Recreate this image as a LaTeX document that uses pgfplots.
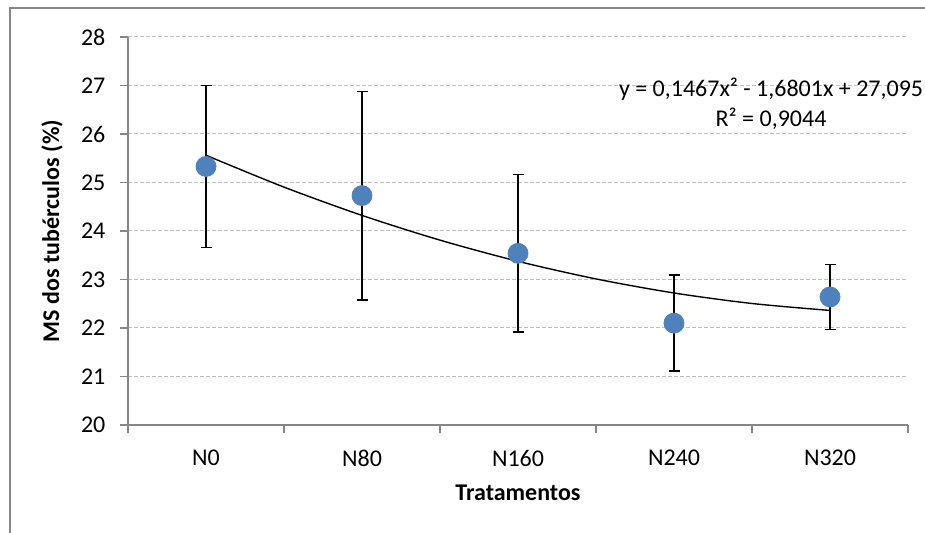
\documentclass[border=0pt]{standalone}
\usepackage{fontspec}
\setmainfont{Carlito}
\usepackage{pgfplots}
\pgfplotsset{compat=1.18}
\definecolor{ptblue}{HTML}{4F81BD}
\definecolor{axgray}{HTML}{868686}
\definecolor{gridgray}{HTML}{BFBFBF}
\begin{document}
\begin{tikzpicture}[x=0.5pt,y=0.5pt]
\useasboundingbox (0,0) rectangle (925,533);
\draw[axgray, line width=0.6pt] (10,0) -- (10,525) -- (925,525);
\begin{axis}[
  at={(64pt,54pt)}, anchor=south west,
  scale only axis, width=390pt, height=194pt,
  xmin=0.5, xmax=5.5, ymin=20, ymax=28,
  xtick={1,2,3,4,5},
  xticklabels={N0,N80,N160,N240,N320},
  minor xtick={0.5,1.5,2.5,3.5,4.5,5.5},
  ytick={20,21,...,28},
  axis x line*=bottom, axis y line*=left,
  axis line style={-, draw=axgray, line width=0.8pt},
  major x tick style={draw=none},
  minor x tick style={draw=axgray, line width=0.6pt},
  major y tick style={draw=axgray, line width=0.6pt},
  tick align=outside,
  major tick length=4pt, minor tick length=4pt,
  ymajorgrids,
  grid style={gridgray, dash pattern=on 2pt off 1pt, line width=0.5pt},
  tick label style={font=\fontsize{12}{14}\selectfont},
  /pgf/number format/assume math mode=true,
  xticklabel style={anchor=center, yshift=-12.5pt},
  yticklabel style={xshift=-3.8pt},
  ylabel={\textbf{MS dos tubérculos (\%)}},
  xlabel={\textbf{Tratamentos}},
  label style={font=\fontsize{12}{14}\selectfont},
  ylabel style={at={(axis description cs:-0.0974,0.5)}, anchor=center, rotate=0},
  xlabel style={at={(axis description cs:0.5,-0.175)}, anchor=center},
  clip=false,
]
\addplot[black, line width=0.7pt, smooth] coordinates {
 (1,25.5616) (1.5,24.9049) (2,24.3216) (2.5,23.8116) (3,23.3750)
 (3.5,23.0117) (4,22.7218) (4.5,22.5052) (5,22.3620)
};
\addplot[only marks, mark=*, mark size=5pt, mark options={fill=ptblue, draw=ptblue},
  error bars/.cd, y dir=both, y explicit,
  error bar style={black, line width=0.75pt},
  error mark options={rotate=90, mark size=2.75pt, black, line width=0.75pt}]
  table[x=x, y=y, y error=e] {
x y e
1 25.33 1.67
2 24.73 2.15
3 23.54 1.62
4 22.10 0.99
5 22.64 0.67
};
\node[align=center, font=\fontsize{12}{15}\selectfont, inner sep=0pt] at (axis cs:4.622,26.63) {y = 0,1467x² - 1,6801x + 27,095\\R² = 0,9044};
\end{axis}
\end{tikzpicture}
\end{document}
